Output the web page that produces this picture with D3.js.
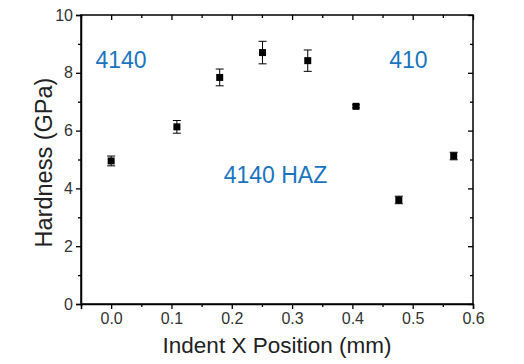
<!DOCTYPE html>
<html>
<head>
<meta charset="utf-8">
<script src="https://cdn.jsdelivr.net/npm/d3@7"></script>
<style>
  body { margin: 0; background: #fff; }
  text { font-family: Arial, "Liberation Sans", sans-serif; }
</style>
</head>
<body>
<div id="chart"></div>
<script>
// ------------------- DATA ----------------------
const indentX = [0.0, 0.109, 0.180, 0.251, 0.326, 0.406, 0.477, 0.568];
const hardness = [4.95, 6.13, 7.84, 8.70, 8.42, 6.84, 3.60, 5.12];
const hardnessErr = [0.17, 0.22, 0.29, 0.39, 0.37, 0.05, 0.13, 0.13];

const xTicks = [0.0, 0.1, 0.2, 0.3, 0.4, 0.5, 0.6];
const xMinor = [-0.05, 0.05, 0.15, 0.25, 0.35, 0.45, 0.55];
const yTicks = [0, 2, 4, 6, 8, 10];
const yMinor = [1, 3, 5, 7, 9];

const regionNames = ["4140", "410", "4140 HAZ"];
const regionX = [-0.026, 0.461, 0.1865];
const regionY = [8.17, 8.17, 4.18];

// ------------------- LAYOUT ----------------------
const width = 524, height = 364;
const plotLeft = 81, plotRight = 473, plotTop = 15, plotBottom = 304;

const svg = d3.select("#chart")
              .append("svg")
              .attr("width", width)
              .attr("height", height);

const x = d3.scaleLinear().domain([-0.05, 0.6]).range([plotLeft, plotRight]);
const y = d3.scaleLinear().domain([0, 10]).range([plotBottom, plotTop]);

// axes: bottom and left with labels, top and right mirrored
svg.append("g")
   .attr("transform", `translate(0,${plotBottom})`)
   .call(d3.axisBottom(x).tickValues(xTicks).tickFormat(d3.format(".1f")).tickSize(5).tickPadding(4))
   .call(g => g.selectAll(".tick text").attr("font-size", 16).attr("fill", "#333"));

svg.append("g")
   .attr("transform", `translate(0,${plotBottom})`)
   .call(d3.axisBottom(x).tickValues(xMinor).tickFormat("").tickSize(3))
   .call(g => g.select(".domain").remove());

svg.append("g")
   .attr("transform", `translate(${plotLeft},0)`)
   .call(d3.axisLeft(y).tickValues(yTicks).tickFormat(d3.format("d")).tickSize(5).tickPadding(3))
   .call(g => g.selectAll(".tick text").attr("font-size", 16).attr("fill", "#333"));

svg.append("g")
   .attr("transform", `translate(${plotLeft},0)`)
   .call(d3.axisLeft(y).tickValues(yMinor).tickFormat("").tickSize(3))
   .call(g => g.select(".domain").remove());

// top (ticks pointing in)
svg.append("g")
   .attr("transform", `translate(0,${plotTop})`)
   .call(d3.axisBottom(x).tickValues(xTicks).tickFormat("").tickSize(5))
   .call(g => g.select(".domain").remove());
svg.append("g")
   .attr("transform", `translate(0,${plotTop})`)
   .call(d3.axisBottom(x).tickValues(xMinor).tickFormat("").tickSize(3))
   .call(g => g.select(".domain").remove());

// right (ticks pointing in)
svg.append("g")
   .attr("transform", `translate(${plotRight},0)`)
   .call(d3.axisLeft(y).tickValues(yTicks).tickFormat("").tickSize(5))
   .call(g => g.select(".domain").remove());
svg.append("g")
   .attr("transform", `translate(${plotRight},0)`)
   .call(d3.axisLeft(y).tickValues(yMinor).tickFormat("").tickSize(3))
   .call(g => g.select(".domain").remove());

// frame
svg.append("rect")
   .attr("x", plotLeft)
   .attr("y", plotTop)
   .attr("width", plotRight - plotLeft)
   .attr("height", plotBottom - plotTop)
   .attr("fill", "none")
   .attr("stroke", "#000")
   .attr("stroke-width", 1.5);

svg.selectAll(".tick line").attr("stroke", "#000").attr("stroke-width", 1.3);
svg.selectAll(".domain").attr("stroke-width", 1.5);

// axis titles
svg.append("text")
   .attr("x", (plotLeft + plotRight) / 2)
   .attr("y", 353)
   .attr("text-anchor", "middle")
   .attr("font-size", 22.5)
   .attr("fill", "#222")
   .text("Indent X Position (mm)");

svg.append("text")
   .attr("transform", `translate(52,${(plotTop + plotBottom) / 2 + 3}) rotate(-90)`)
   .attr("text-anchor", "middle")
   .attr("font-size", 23.5)
   .attr("fill", "#222")
   .text("Hardness (GPa)");

// error bars
const pts = indentX.map((v, i) => ({ x: v, y: hardness[i], e: hardnessErr[i] }));

const bars = svg.append("g").attr("stroke", "#000").attr("stroke-width", 1);
bars.selectAll(".stem")
    .data(pts)
    .enter()
    .append("line")
    .attr("x1", d => x(d.x))
    .attr("x2", d => x(d.x))
    .attr("y1", d => y(d.y - d.e))
    .attr("y2", d => y(d.y + d.e));
bars.selectAll(".capTop")
    .data(pts)
    .enter()
    .append("line")
    .attr("x1", d => x(d.x) - 4)
    .attr("x2", d => x(d.x) + 4)
    .attr("y1", d => y(d.y + d.e))
    .attr("y2", d => y(d.y + d.e));
bars.selectAll(".capBot")
    .data(pts)
    .enter()
    .append("line")
    .attr("x1", d => x(d.x) - 4)
    .attr("x2", d => x(d.x) + 4)
    .attr("y1", d => y(d.y - d.e))
    .attr("y2", d => y(d.y - d.e));

// square markers
svg.selectAll(".pt")
   .data(pts)
   .enter()
   .append("rect")
   .attr("x", d => x(d.x) - 3.5)
   .attr("y", d => y(d.y) - 3.5)
   .attr("width", 7)
   .attr("height", 7)
   .attr("fill", "#000");

// region labels
svg.selectAll(".region")
   .data(regionNames)
   .enter()
   .append("text")
   .attr("x", (d, i) => x(regionX[i]))
   .attr("y", (d, i) => y(regionY[i]))
   .attr("font-size", 23)
   .attr("fill", "#1a75c0")
   .text(d => d);
</script>
</body>
</html>
